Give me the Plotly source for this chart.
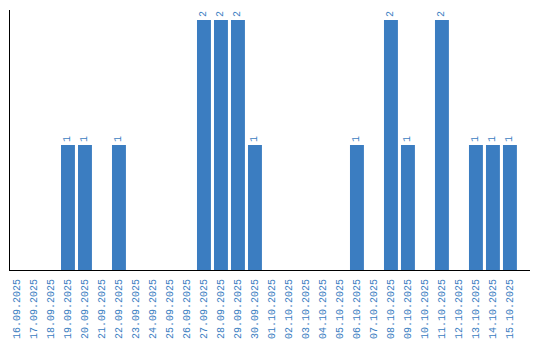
import plotly.graph_objects as go

dates = ["16.09.2025","17.09.2025","18.09.2025","19.09.2025","20.09.2025","21.09.2025",
         "22.09.2025","23.09.2025","24.09.2025","25.09.2025","26.09.2025","27.09.2025",
         "28.09.2025","29.09.2025","30.09.2025","01.10.2025","02.10.2025","03.10.2025",
         "04.10.2025","05.10.2025","06.10.2025","07.10.2025","08.10.2025","09.10.2025",
         "10.10.2025","11.10.2025","12.10.2025","13.10.2025","14.10.2025","15.10.2025"]
counts = [0,0,0,1,1,0,1,0,0,0,0,2,2,2,1,0,0,0,0,0,1,0,2,1,0,2,0,1,1,1]

idx = list(range(len(dates)))
blue = "#3b7dc1"
texts = [str(v) if v > 0 else "" for v in counts]

fig = go.Figure(go.Bar(
    x=idx, y=counts, width=0.82, marker=dict(color=blue, line=dict(width=0)),
    text=texts, textposition="outside", textangle=-90,
    textfont=dict(family="Liberation Mono", size=10, color=blue),
    cliponaxis=False,
))
fig.update_layout(
    width=540, height=340, margin=dict(l=10, r=10, t=10, b=70),
    paper_bgcolor="white", plot_bgcolor="white", showlegend=False,
    xaxis=dict(range=[-0.41, 30.18], tickvals=idx, ticktext=dates, tickangle=-90,
               tickfont=dict(family="Liberation Mono", size=10, color=blue),
               showgrid=False, zeroline=False, showline=True, linecolor="black",
               linewidth=1, ticks="", automargin=False, ticklabelstandoff=4),
    yaxis=dict(range=[0, 2.08], showticklabels=False, showgrid=False, zeroline=False,
               showline=True, linecolor="black", linewidth=1, ticks="", automargin=False),
)
fig.write_html("out.html")
